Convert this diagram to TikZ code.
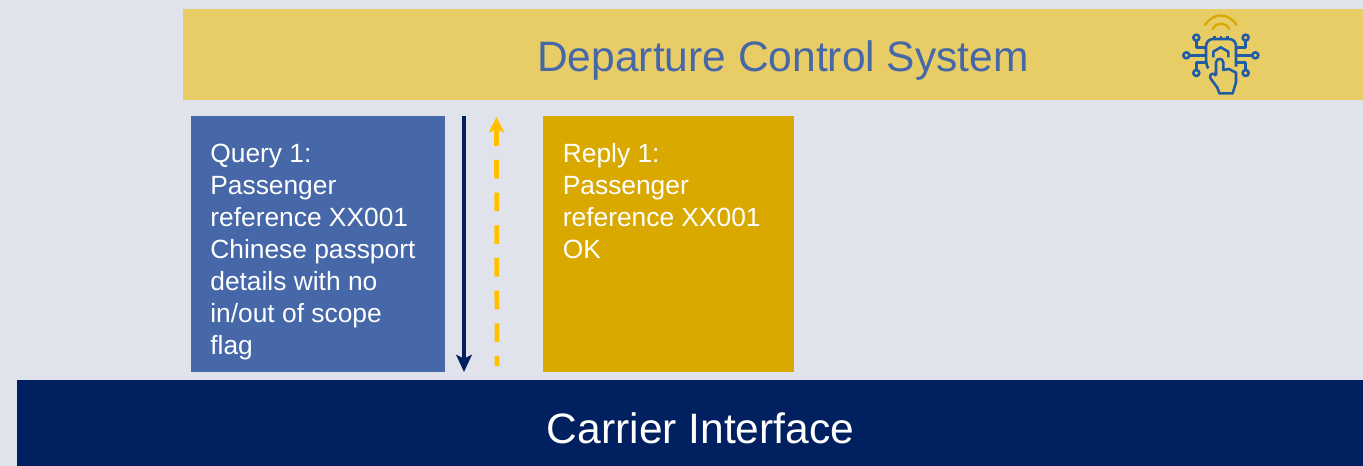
\documentclass[tikz,border=0pt]{standalone}
\usepackage{fontspec}
\setmainfont{Liberation Sans}
\usetikzlibrary{arrows.meta}
\definecolor{pagebg}{HTML}{E0E3EC}
\definecolor{headbg}{HTML}{E8CC66}
\definecolor{titleblue}{HTML}{4667A8}
\definecolor{replygold}{HTML}{D9A900}
\definecolor{navy}{HTML}{002060}
\definecolor{ambers}{HTML}{FFC000}
\definecolor{iconblue}{HTML}{1F5CA6}
\tikzset{
    band/.style = {rectangle, inner sep=0pt, anchor=north west},
    bandtext/.style = {inner sep=0pt, font=\fontsize{24.2pt}{29pt}\selectfont},
    msgbox/.style = {rectangle, inner sep=0pt, anchor=north west, minimum height=5.12cm},
    msgtext/.style = {inner sep=0pt, anchor=north west, align=left, text=white, font=\fontsize{15pt}{18.2pt}\selectfont},
    edgeq/.style = {-{Stealth[width=8.8pt,length=9.7pt,inset=2pt]},line width=2.7pt,navy},
    edger/.style = {-{Stealth[width=8.8pt,length=8.8pt,inset=2pt]},line width=2.7pt,ambers,dash pattern=on 10.6pt off 8pt,dash phase=4.9pt},
    iconline/.style = {line width=1.45pt,iconblue,line join=round},
    iconarc/.style = {line width=1.3pt,replygold,line cap=round},
}
\begin{document}
\begin{tikzpicture}[x=0.02cm,y=-0.02cm]
\useasboundingbox[fill=pagebg] (0,0) rectangle (1363,466);
%
\node[band,fill=headbg,minimum width=23.6cm,minimum height=1.82cm] at (183,9) (head) {};
\node[band,fill=navy,minimum width=26.92cm,minimum height=1.72cm] at (17,380) (carrier) {};
\node[bandtext,text=titleblue] at (783,61) (headtext) {Departure Control System};
\node[bandtext,text=white] at (700.5,428) (carriertext) {Carrier Interface};
%
\node[msgbox,fill=titleblue,minimum width=5.08cm] at (191,116) (query) {};
\node[msgbox,fill=replygold,minimum width=5.02cm] at (543,116) (reply) {};
\node[msgtext] at (210,144) (querytext) {Query 1:\\Passenger\\reference XX001\\Chinese passport\\details with no\\in/out of scope\\flag};
\node[msgtext] at (562.5,143.5) (replytext) {Reply 1:\\Passenger\\reference XX001\\OK};
%
\coordinate (qa) at (464,116);
\coordinate (qb) at (464,372);
\coordinate (ra) at (497,366);
\coordinate (rb) at (496.5,117);
\draw[edgeq] (qa) -- (qb);
\draw[edger] (ra) -- (rb);
%
\begin{scope}[shift={(1160,5)},x=0.00667cm,y=-0.00667cm]
\draw[iconarc] (135,60) .. controls (160,22) and (205,22) .. (230,60);
\draw[iconarc] (158,72) .. controls (170,50) and (196,50) .. (208,72);
\draw[iconline] (145,190) .. controls (138,180) and (138,175) .. (138,125) .. controls (138,110) and (148,102) .. (160,102) -- (205,102) .. controls (220,102) and (228,110) .. (228,125) -- (228,185);
\foreach \x in {163,183,203}
    \draw[iconline] (\x,92) -- (\x,102);
\draw[iconline] (160,157) -- (160,140) -- (182,127) -- (205,140) -- (205,157);
\foreach \x/\y in {109/98,257/98,79/151,286/151,109/204,257/204}
    \draw[iconline] (\x,\y) circle (9);
\draw[iconline] (88,151) -- (138,151);
\draw[iconline] (228,151) -- (277,151);
\draw[iconline] (109,107) -- (109,128) -- (138,128);
\draw[iconline] (257,107) -- (257,128) -- (228,128);
\draw[iconline] (109,195) -- (109,172) -- (140,172);
\draw[iconline] (257,195) -- (257,172) -- (228,172);
\draw[iconline,fill=headbg] (168,212) -- (168,172) .. controls (170,158) and (188,158) .. (190,172) -- (190,195) -- (207,192) -- (228,203) -- (228,232) -- (218,265) -- (178,265) -- (172,248) -- (150,218) .. controls (150,205) and (160,202) .. (168,212);
\end{scope}
\end{tikzpicture}
\end{document}
